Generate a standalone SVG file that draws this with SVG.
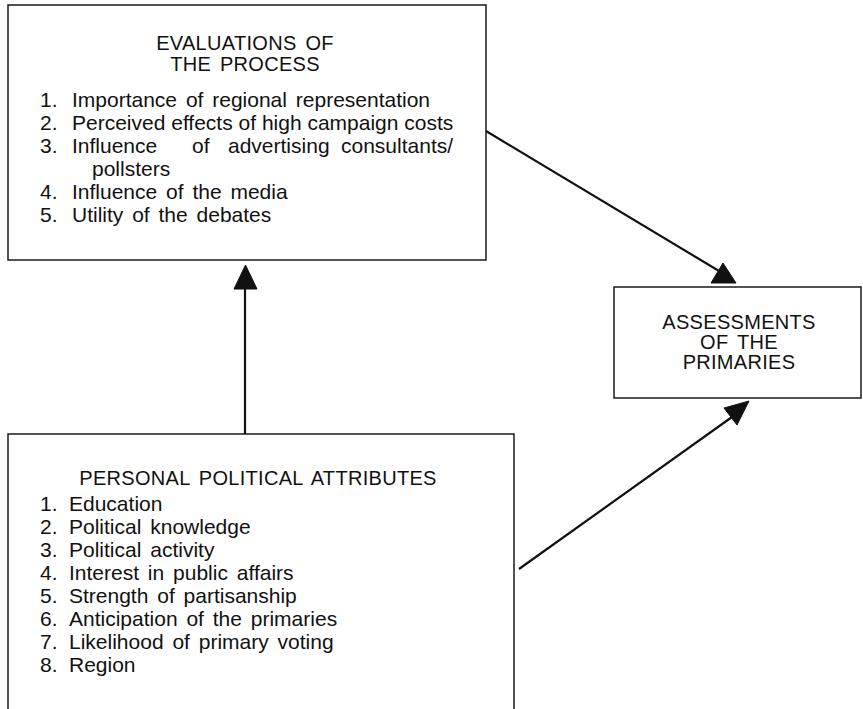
<svg xmlns="http://www.w3.org/2000/svg" width="863" height="709" viewBox="0 0 863 709">
<style>
.box{fill:none;stroke:#1a1a1a;stroke-width:1.5}
.t{font-family:"Liberation Sans",Arial,sans-serif;font-size:21px;fill:#111;word-spacing:3px}
.h{font-family:"Liberation Sans",Arial,sans-serif;font-size:20px;fill:#111;text-anchor:middle;word-spacing:3px;letter-spacing:0.3px}
.tight{word-spacing:0}
.ln{stroke:#111;stroke-width:2.2;fill:none}
.ah{fill:#111;stroke:#111;stroke-width:1}
</style>
<rect width="863" height="709" fill="#fff"/>
<g id="evaluations">
<rect class="box" x="8" y="5" width="478" height="255"/>
<text class="h" x="245" y="50">EVALUATIONS OF</text>
<text class="h" x="245" y="71">THE PROCESS</text>
<text class="t" x="40" y="107">1.</text><text class="t" x="72" y="107">Importance of regional representation</text>
<text class="t" x="40" y="130">2.</text><text class="t tight" x="72" y="130">Perceived effects of high campaign costs</text>
<text class="t" x="40" y="153">3.</text><text class="t" y="153"><tspan x="72">Influence</tspan><tspan x="192">of</tspan><tspan x="228">advertising</tspan><tspan x="341">consultants/</tspan></text>
<text class="t" x="92" y="176">pollsters</text>
<text class="t" x="40" y="199">4.</text><text class="t" x="72" y="199">Influence of the media</text>
<text class="t" x="40" y="222">5.</text><text class="t" x="72" y="222">Utility of the debates</text>
</g>
<g id="assessments">
<rect class="box" x="614" y="287" width="247" height="111"/>
<text class="h" x="739" y="329">ASSESSMENTS</text>
<text class="h" x="739" y="349">OF THE</text>
<text class="h" x="739" y="369">PRIMARIES</text>
</g>
<g id="attributes">
<path class="box" d="M8,712 V434 H514 V712"/>
<text class="h" x="258" y="485">PERSONAL POLITICAL ATTRIBUTES</text>
<text class="t" x="40" y="511">1.</text><text class="t" x="69" y="511">Education</text>
<text class="t" x="40" y="534">2.</text><text class="t" x="69" y="534">Political knowledge</text>
<text class="t" x="40" y="557">3.</text><text class="t" x="69" y="557">Political activity</text>
<text class="t" x="40" y="580">4.</text><text class="t" x="69" y="580">Interest in public affairs</text>
<text class="t" x="40" y="603">5.</text><text class="t" x="69" y="603">Strength of partisanship</text>
<text class="t" x="40" y="626">6.</text><text class="t" x="69" y="626">Anticipation of the primaries</text>
<text class="t" x="40" y="649">7.</text><text class="t" x="69" y="649">Likelihood of primary voting</text>
<text class="t" x="40" y="672">8.</text><text class="t" x="69" y="672">Region</text>
</g>
<g id="connectors">
<line class="ln" x1="245" y1="434" x2="245" y2="285"/>
<polygon class="ah" points="245.5,265 234,289 257,289"/>
<line class="ln" x1="486" y1="131" x2="719" y2="271"/>
<polygon class="ah" points="723,263 711,283 736,283"/>
<line class="ln" x1="519" y1="569" x2="732" y2="417"/>
<polygon class="ah" points="749,401 724,408 737,425"/>
</g>
</svg>
